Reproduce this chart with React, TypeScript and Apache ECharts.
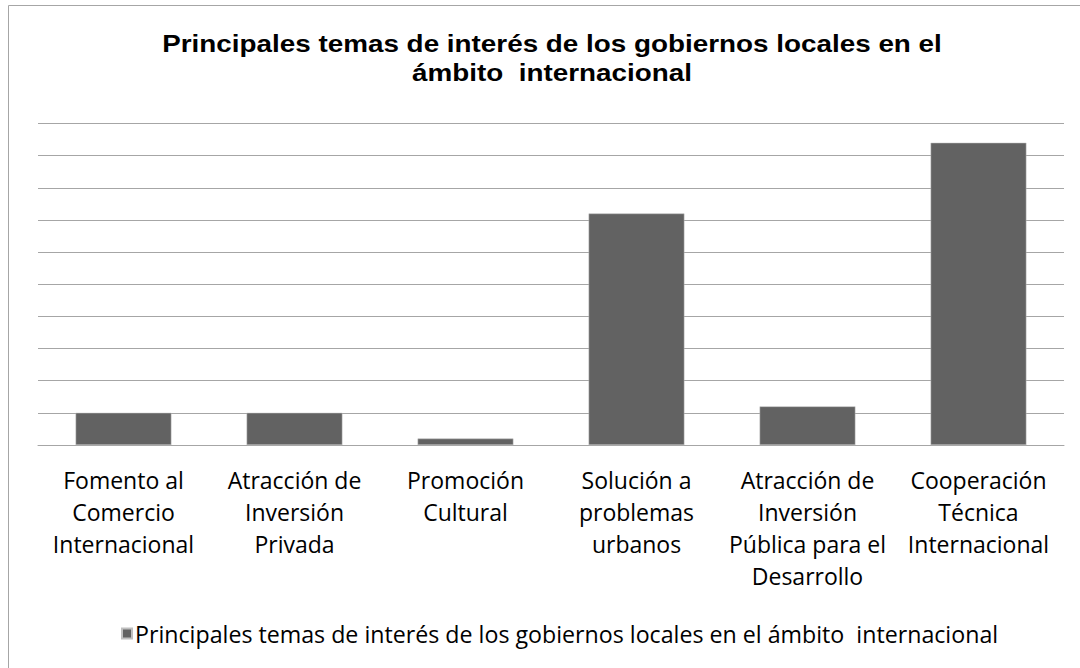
import React, { useEffect, useRef } from "react";
import * as echarts from "echarts";

const titleText = "Principales temas de interés de los gobiernos locales en el\námbito  internacional";
const seriesName = "Principales temas de interés de los gobiernos locales en el ámbito  internacional";
const categories = [
  "Fomento al\nComercio\nInternacional",
  "Atracción de\nInversión\nPrivada",
  "Promoción\nCultural",
  "Solución a\nproblemas\nurbanos",
  "Atracción de\nInversión\nPública para el\nDesarrollo",
  "Cooperación\nTécnica\nInternacional",
];
const values = [5, 5, 1, 36, 6, 47];
const yMin = 0;
const yMax = 50;
const yInterval = 5;

const BODY_FONT = "'Open Sans', Carlito, sans-serif";
const TITLE_FONT = "'Liberation Sans', Arial, sans-serif";

export default function App() {
  const ref = useRef<HTMLDivElement>(null);
  useEffect(() => {
    document.body.style.margin = "0";
    if (!ref.current) return;
    const chart = echarts.init(ref.current, null, { renderer: "svg" });
    chart.setOption({
      animation: false,
      backgroundColor: "#ffffff",
      legend: {
        data: [seriesName],
        left: 116,
        top: 617,
        icon: "rect",
        itemWidth: 10,
        itemHeight: 10,
        itemGap: 6,
        textStyle: { fontFamily: BODY_FONT, fontSize: 23.2, color: "#000000", padding: [0, 0, 0, -2] },
      },
      grid: { left: 38, right: 16, top: 123.5, bottom: 223 },
      xAxis: {
        type: "category",
        data: categories,
        axisLine: { show: true, lineStyle: { color: "#a6a6a6", width: 1 } },
        axisTick: { show: false },
        axisLabel: {
          interval: 0,
          margin: 19,
          fontFamily: BODY_FONT,
          fontSize: 23,
          lineHeight: 32,
          color: "#000000",
          verticalAlign: "top",
        },
      },
      yAxis: {
        type: "value",
        min: yMin,
        max: yMax,
        interval: yInterval,
        axisLabel: { show: false },
        axisLine: { show: false },
        axisTick: { show: false },
        splitLine: { show: true, lineStyle: { color: "#a6a6a6", width: 1 } },
      },
      series: [
        {
          name: seriesName,
          type: "bar",
          data: values,
          barWidth: "56%",
          itemStyle: { color: "#626262", borderColor: "#bfbfbf", borderWidth: 0.5 },
        },
      ],
      graphic: [
        {
          type: "rect",
          shape: { x: 8.5, y: 5.5, width: 1100, height: 700 },
          style: { fill: "none", stroke: "#a6a6a6", lineWidth: 1 },
          silent: true,
        },
        {
          type: "text",
          x: 552,
          y: 29,
          scaleX: 1.16,
          silent: true,
          style: {
            text: titleText,
            fontFamily: TITLE_FONT,
            fontWeight: "bold",
            fontSize: 24,
            lineHeight: 29,
            fill: "#000000",
            align: "center",
            verticalAlign: "top",
          },
        },
      ],
    });
    return () => chart.dispose();
  }, []);
  return <div ref={ref} style={{ width: 1080, height: 668 }} />;
}
